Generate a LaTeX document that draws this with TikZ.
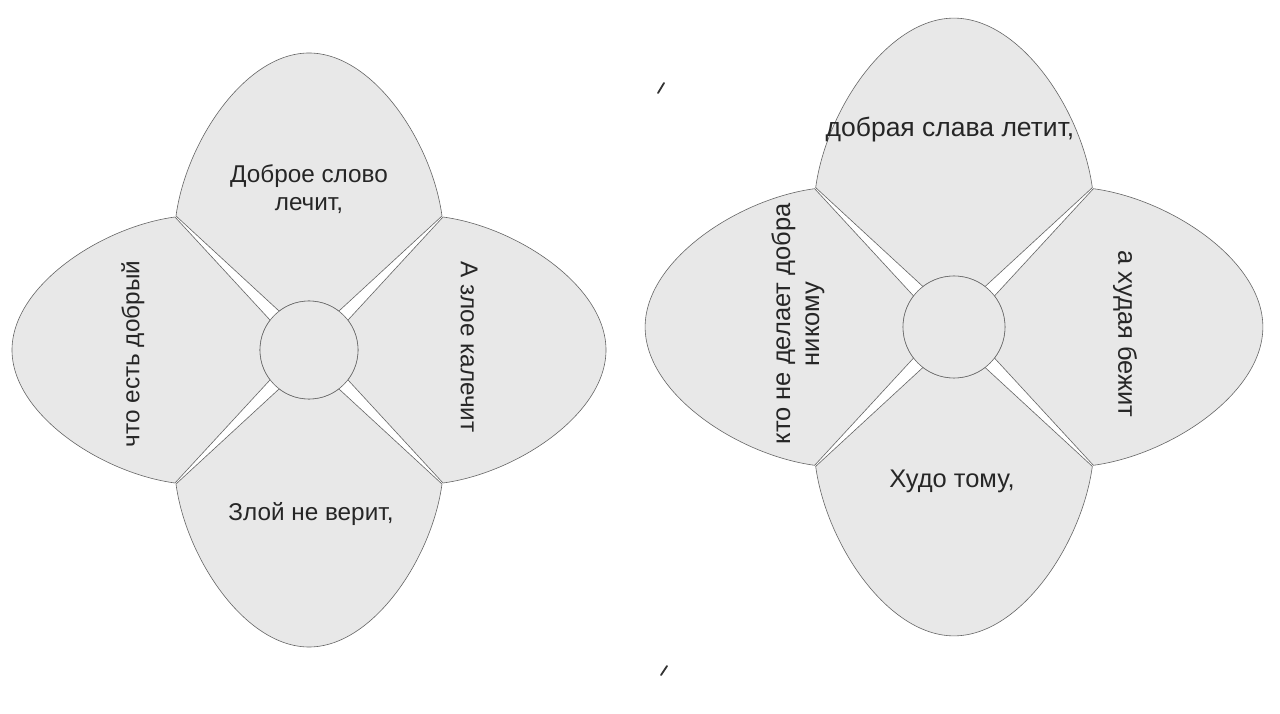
\documentclass[tikz,border=0pt]{standalone}
\usepackage{fontspec}
\setmainfont{Liberation Sans}
\begin{document}
\begin{tikzpicture}[x=1pt,y=1pt]
\tikzset{
  petalline/.style={draw=black!60, line width=0.6pt, fill=black!9, line join=round},
  hub/.style={circle, draw=black!60, line width=0.6pt, fill=black!9, inner sep=0pt},
  label/.style={text=black!85, inner sep=0pt},
  fsa/.style={font=\fontsize{24.3}{28}\selectfont},
  fsb/.style={font=\fontsize{25.5}{29}\selectfont},
  tick/.style={draw=black!80, line width=1.8pt, line cap=round},
  pics/petal/.style={code={
    \filldraw[petalline] (-133,134) .. controls (-123,208) and (-64,297) .. (0,297)
      .. controls (64,297) and (123,208) .. (133,134) -- (52.5:49)
      arc[start angle=52.5, end angle=127.5, radius=49] -- cycle;
  }},
}
\useasboundingbox (0,0) rectangle (1280,713);
\fill[white] (0,0) rectangle (1280,713);

% left flower
\foreach \a in {0,90,180,270} \pic[rotate=\a] at (309,363) {petal};
\node[hub, minimum size=98pt] (c1) at (309,363) {};
\node[label, fsa, align=center] (t1) at (309,524) {Доброе слово\\лечит,};
\node[label, fsa, rotate=90] (t2) at (133,359) {что есть добрый};
\node[label, fsa, rotate=-90] (t3) at (469,366) {А злое калечит};
\node[label, fsa] (t4) at (311,199) {Злой не верит,};

% right flower
\foreach \a in {0,90,180,270} \pic[rotate=\a, scale=1.04] at (954,386) {petal};
\node[hub, minimum size=102pt] (c2) at (954,386) {};
\node[label, font=\fontsize{26.5}{30}\selectfont] (t5) at (950,583) {добрая слава летит,};
\node[label, fsb, rotate=90, align=center] (t6) at (798,389) {кто не делает добра\\никому};
\node[label, fsb, rotate=-90] (t7) at (1125,379) {а худая бежит};
\node[label, fsb] (t8) at (952,232) {Худо тому,};

% ticks
\coordinate (k1a) at (658,620); \coordinate (k1b) at (664,630);
\coordinate (k2a) at (661,38); \coordinate (k2b) at (667,47);
\draw[tick] (k1a) -- (k1b);
\draw[tick] (k2a) -- (k2b);
\end{tikzpicture}
\end{document}
